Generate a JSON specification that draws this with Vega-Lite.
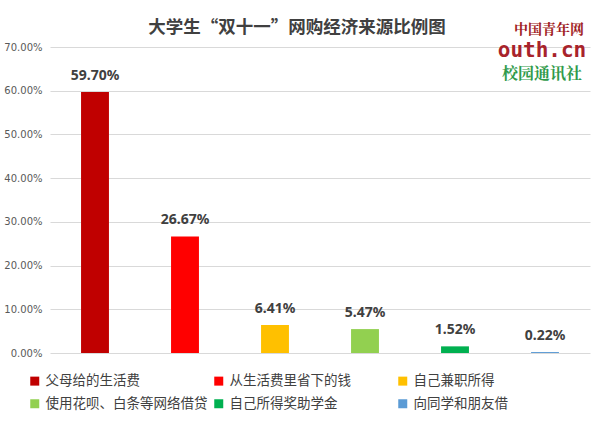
{
  "$schema": "https://vega.github.io/schema/vega-lite/v6.json",
  "width": 540,
  "height": 306,
  "autosize": {"type": "none"},
  "padding": {"left": 50, "top": 47, "right": 10, "bottom": 69},
  "background": "white",
  "config": {"font": "Noto Sans CJK SC", "view": {"stroke": null}},
  "title": {"text": "大学生“双十一”网购经济来源比例图", "fontSize": 17.5, "fontWeight": "bold", "color": "#404040", "anchor": "middle", "dx": -23, "dy": 17, "offset": 4, "font": "Noto Sans CJK SC"},
  "data": {"values": [
    {"来源": "父母给的生活费", "比例": 0.597},
    {"来源": "从生活费里省下的钱", "比例": 0.2667},
    {"来源": "自己兼职所得", "比例": 0.0641},
    {"来源": "使用花呗、白条等网络借贷", "比例": 0.0547},
    {"来源": "自己所得奖助学金", "比例": 0.0152},
    {"来源": "向同学和朋友借", "比例": 0.0022}
  ]},
  "encoding": {
    "x": {"field": "来源", "type": "nominal", "sort": null, "axis": null, "scale": {"paddingInner": 0.69, "paddingOuter": 0.345}},
    "y": {"field": "比例", "type": "quantitative", "scale": {"domain": [0, 0.7], "nice": false},
      "axis": {"format": ".2%", "values": [0, 0.1, 0.2, 0.3, 0.4, 0.5, 0.6, 0.7], "title": null, "domain": false, "ticks": false, "labelFontSize": 10, "labelColor": "#595959", "labelPadding": 8, "gridColor": "#D9D9D9", "labelFont": "DejaVu Sans"}}
  },
  "layer": [
    {
      "mark": {"type": "bar"},
      "encoding": {
        "color": {"field": "来源", "type": "nominal", "sort": null,
          "scale": {"domain": ["父母给的生活费", "从生活费里省下的钱", "自己兼职所得", "使用花呗、白条等网络借贷", "自己所得奖助学金", "向同学和朋友借"], "range": ["#C00000", "#FF0000", "#FFC000", "#92D050", "#00B050", "#5B9BD5"]},
          "legend": {"orient": "none", "legendX": -22, "legendY": 327, "direction": "horizontal", "title": null, "columns": 3, "gridAlign": "all", "columnPadding": 4, "rowPadding": 8, "symbolType": "square", "symbolSize": 81, "symbolStrokeWidth": 0, "labelFontSize": 13.5, "labelColor": "#404040", "labelOffset": 4, "labelLimit": 300, "labelFont": "Noto Sans CJK SC"}}
      }
    },
    {
      "mark": {"type": "text", "baseline": "bottom", "dy": -9, "fontSize": 14, "fontWeight": "bold", "color": "#404040", "font": "Noto Sans"},
      "encoding": {"text": {"field": "比例", "type": "quantitative", "format": ".2%"}}
    },
    {
      "data": {"values": [{"来源": "向同学和朋友借", "比例": 0.738, "文字": "中国青年网"}]},
      "mark": {"type": "text", "fontWeight": "bold", "fontSize": 14, "dx": 4, "color": "#A01C24", "font": "Noto Serif CJK SC"},
      "encoding": {"text": {"field": "文字"}}
    },
    {
      "data": {"values": [{"来源": "向同学和朋友借", "比例": 0.691, "文字": "outh.cn"}]},
      "mark": {"type": "text", "fontWeight": "bold", "fontSize": 21, "dx": -3, "color": "#A8232B", "font": "DejaVu Sans Mono"},
      "encoding": {"text": {"field": "文字"}}
    },
    {
      "data": {"values": [{"来源": "向同学和朋友借", "比例": 0.639, "文字": "校园通讯社"}]},
      "mark": {"type": "text", "fontWeight": "bold", "fontSize": 16, "dx": -3, "color": "#2F9A4A", "font": "Noto Serif CJK SC"},
      "encoding": {"text": {"field": "文字"}}
    }
  ],
  "resolve": {"scale": {"color": "independent"}}
}
